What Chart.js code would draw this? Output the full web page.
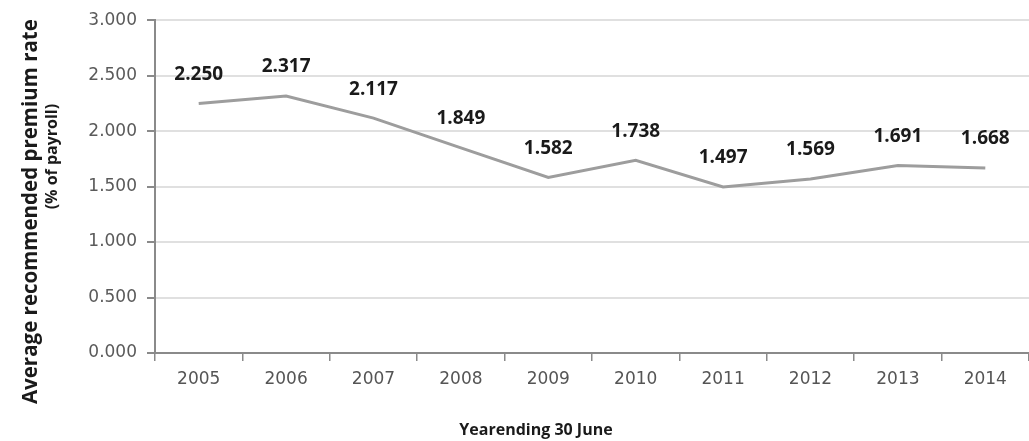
<!DOCTYPE html>
<html>
<head>
<meta charset="utf-8">
<script src="https://cdn.jsdelivr.net/npm/chart.js@4"></script>
<style>
  html, body { margin: 0; padding: 0; background: #fff; }
  #wrap { width: 1029px; height: 441px; }
</style>
</head>
<body>
<div id="wrap"><canvas id="premium-chart" width="1029" height="441"></canvas></div>
<script>
// values
var years = ['2005', '2006', '2007', '2008', '2009', '2010', '2011', '2012', '2013', '2014'];
var premiumRates = [2.250, 2.317, 2.117, 1.849, 1.582, 1.738, 1.497, 1.569, 1.691, 1.668];
var yTicks = [0, 0.5, 1, 1.5, 2, 2.5, 3];
var yTitle = ['Average recommended premium rate', '(% of payroll)'];
var xTitle = 'Yearending 30 June';

// bold value above each point
var valueLabels = {
    id: 'valueLabels',
    afterDatasetsDraw: function(chart) {
        var ctx = chart.ctx;
        var meta = chart.getDatasetMeta(0);
        ctx.save();
        ctx.font = 'bold 19px "Open Sans", "DejaVu Sans", sans-serif';
        ctx.fillStyle = '#1a1a1a';
        ctx.textAlign = 'center';
        ctx.textBaseline = 'middle';
        meta.data.forEach(function(pt, i) {
            ctx.fillText(premiumRates[i].toFixed(3), pt.x, pt.y - 29);
        });
        ctx.restore();
    }
};

// axis titles sit off-centre in the original, so they are drawn here
var axisTitles = {
    id: 'axisTitles',
    afterDraw: function(chart) {
        var ctx = chart.ctx;
        var area = chart.chartArea;
        ctx.save();
        ctx.fillStyle = '#1a1a1a';
        ctx.textAlign = 'center';
        ctx.textBaseline = 'middle';
        // y title, two lines rotated
        ctx.save();
        ctx.translate(31, (area.top + area.bottom) / 2 + 25);
        ctx.rotate(-Math.PI / 2);
        ctx.font = 'bold 20.5px "Open Sans", sans-serif';
        ctx.fillText(yTitle[0], 0, 0);
        ctx.restore();
        ctx.save();
        ctx.translate(52, (area.top + area.bottom) / 2 - 30);
        ctx.rotate(-Math.PI / 2);
        ctx.font = 'bold 16px "Open Sans", sans-serif';
        ctx.fillText(yTitle[1], 0, 0);
        ctx.restore();
        // x title
        ctx.font = 'bold 16px "Open Sans", sans-serif';
        ctx.fillText(xTitle, 536, 430);
        ctx.restore();
    }
};

const ctx = document.getElementById('premium-chart');
new Chart(ctx, {
    type: 'line',
    data: {
        labels: years,
        datasets: [{
            data: premiumRates,
            borderColor: '#9d9d9d',
            borderWidth: 3,
            pointRadius: 0,
            tension: 0,
            fill: false
        }]
    },
    options: {
        responsive: false,
        animation: false,
        layout: { padding: { top: 17, right: 0, left: 0, bottom: 0 } },
        plugins: {
            legend: { display: false },
            tooltip: { enabled: false }
        },
        scales: {
            x: {
                offset: true,
                grid: {
                    offset: true,
                    drawOnChartArea: false,
                    color: '#8a8a8a',
                    lineWidth: 1.5,
                    tickLength: 8
                },
                border: { color: '#8a8a8a', width: 2 },
                ticks: {
                    color: '#555',
                    padding: 8,
                    font: { family: '"DejaVu Sans", sans-serif', size: 17 }
                },
                afterFit: function(scale) { scale.height = 88; }
            },
            y: {
                min: 0,
                max: 3,
                afterBuildTicks: function(scale) {
                    scale.ticks = yTicks.map(function(v) { return { value: v }; });
                },
                grid: {
                    color: '#e0e0e0',
                    lineWidth: 2,
                    tickLength: 8,
                    tickColor: '#8a8a8a'
                },
                border: { color: '#8a8a8a', width: 2 },
                ticks: {
                    color: '#5a5a5a',
                    padding: 10,
                    font: { family: '"DejaVu Sans", sans-serif', size: 17 },
                    callback: function(v) { return Number(v).toFixed(3); }
                },
                afterFit: function(scale) { scale.width = 155; }
            }
        }
    },
    plugins: [valueLabels, axisTitles]
});
</script>
</body>
</html>
